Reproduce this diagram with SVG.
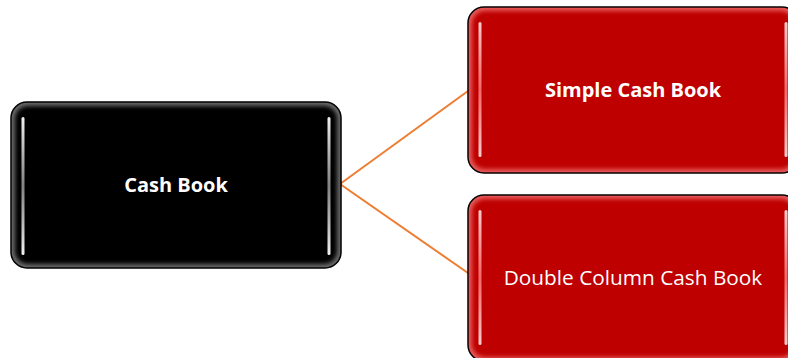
<svg xmlns="http://www.w3.org/2000/svg" width="788" height="358" viewBox="0 0 788 358">
<style>
.lbl{font-family:"Open Sans","Liberation Sans",sans-serif;fill:#fff;text-anchor:middle;dominant-baseline:central;font-size:20px}
.b{font-weight:bold}
.r{font-size:20.8px}
.conn{stroke:#ED7D31;stroke-width:2;fill:none}
</style>
<defs>
<filter id="soft" x="-10%" y="-10%" width="120%" height="120%"><feGaussianBlur stdDeviation="2"/></filter>
<linearGradient id="hlw" x1="0" y1="0" x2="0" y2="1"><stop offset="0" stop-color="#fff" stop-opacity="0.95"/><stop offset="0.5" stop-color="#bbb" stop-opacity="0.7"/><stop offset="1" stop-color="#fff" stop-opacity="0.95"/></linearGradient>
<linearGradient id="hlr" x1="0" y1="0" x2="0" y2="1"><stop offset="0" stop-color="#ffd6d6" stop-opacity="0.95"/><stop offset="0.5" stop-color="#ff7a7a" stop-opacity="0.85"/><stop offset="1" stop-color="#ffd6d6" stop-opacity="0.95"/></linearGradient>
</defs>
<g id="connectors">
<line class="conn" x1="340" y1="184" x2="468" y2="91"/>
<line class="conn" x1="340" y1="184" x2="468" y2="273"/>
</g>
<g id="cash-book">
<rect x="11" y="102" width="330" height="166" rx="16" fill="#6a6a6a" stroke="#000" stroke-width="1.5"/>
<rect x="15" y="106" width="322" height="158" rx="13" fill="#000" filter="url(#soft)"/>
<rect x="21.5" y="117" width="3" height="138" rx="1.5" fill="url(#hlw)"/>
<rect x="327.5" y="117" width="3" height="138" rx="1.5" fill="url(#hlw)"/>
<text class="lbl b" x="176" y="184">Cash Book</text>
</g>
<g id="simple-cash-book">
<rect x="468" y="7" width="330" height="166" rx="16" fill="#e85a5a" stroke="#000" stroke-width="1.5"/>
<rect x="472" y="11" width="322" height="158" rx="13" fill="#BE0000" filter="url(#soft)"/>
<rect x="478.5" y="22" width="3" height="135" rx="1.5" fill="url(#hlr)"/>
<rect x="784.5" y="22" width="3" height="135" rx="1.5" fill="url(#hlr)"/>
<text class="lbl b" x="633" y="89">Simple Cash Book</text>
</g>
<g id="double-column-cash-book">
<rect x="468" y="195" width="330" height="166" rx="16" fill="#e85a5a" stroke="#000" stroke-width="1.5"/>
<rect x="472" y="199" width="322" height="158" rx="13" fill="#BE0000" filter="url(#soft)"/>
<rect x="478.5" y="210" width="3" height="135" rx="1.5" fill="url(#hlr)"/>
<rect x="784.5" y="210" width="3" height="135" rx="1.5" fill="url(#hlr)"/>
<text class="lbl r" x="633" y="277">Double Column Cash Book</text>
</g>
</svg>
